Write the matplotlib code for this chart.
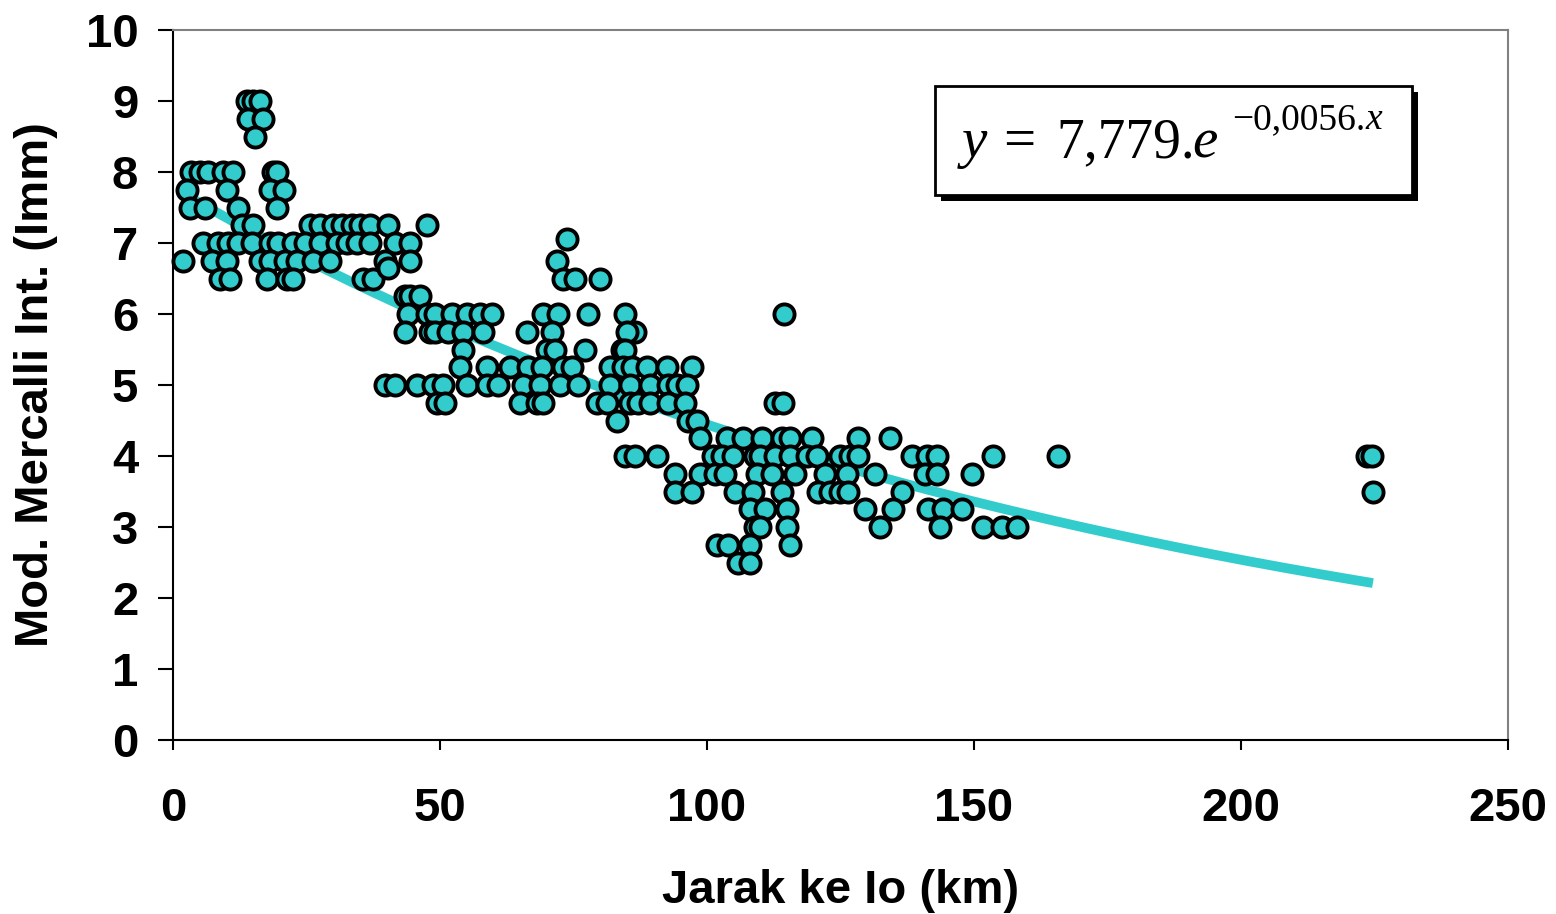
import matplotlib.pyplot as plt
from matplotlib.patches import Rectangle
import numpy as np

# Intensitas gempa (MMI) terhadap jarak ke episenter, data dibaca per baris intensitas
jarak = [
    # 9.0 / 8.75 / 8.5
    13.9, 15.0, 16.3, 14.0, 16.8, 15.4,
    # 8.0
    3.4, 5.1, 6.6, 9.4, 11.2, 18.7, 19.5,
    # 7.75
    2.6, 10.1, 18.2, 20.8,
    # 7.5
    3.2, 6.0, 12.2, 19.5,
    # 7.25
    12.9, 15.0, 25.7, 27.5, 30.0, 31.6, 33.5, 35.0, 36.9, 40.3, 47.6,
    # 7.0
    5.6, 8.4, 10.3, 12.2, 14.8, 18.2, 19.7, 22.5, 24.7, 27.5, 30.7, 32.6,
    34.5, 36.9, 41.6, 44.4, 73.8,
    # 6.75
    1.9, 7.3, 10.1, 16.3, 18.2, 21.0, 23.2, 26.2, 29.4, 39.7, 44.4, 71.9,
    # 6.5 (+6.65)
    8.8, 10.7, 17.6, 21.3, 22.5, 35.6, 37.5, 73.0, 75.3, 80.0, 40.3,
    # 6.25
    43.4, 44.4, 46.3,
    # 6.0
    44.0, 47.6, 49.1, 52.2, 55.1, 57.5, 59.7, 69.3, 72.1, 77.7, 84.6, 114.5,
    # 5.75
    43.4, 48.1, 49.1, 51.5, 54.3, 58.1, 66.3, 71.0, 86.5, 85.0,
    # 5.5
    54.3, 70.0, 71.5, 77.2, 84.1, 84.6,
    # 5.25
    53.7, 58.8, 63.1, 66.5, 69.1, 73.0, 74.7, 81.8, 84.3, 86.0, 88.8, 92.5, 97.2,
    # 5.0
    39.7, 41.6, 45.7, 48.7, 50.6, 55.1, 58.8, 60.9, 65.5, 68.7, 72.5, 75.8,
    81.8, 85.6, 89.3, 92.7, 94.4, 96.3,
    # 4.75
    49.4, 50.9, 65.0, 68.2, 69.3, 79.4, 81.3, 85.6, 87.1, 89.3, 92.7, 95.9,
    112.7, 114.2,
    # 4.5
    83.1, 96.4, 98.1,
    # 4.25
    98.7, 103.7, 106.7, 110.3, 114.0, 115.5, 119.7, 128.3, 134.3,
    # 4.0
    84.6, 86.5, 90.6, 101.1, 102.8, 104.9, 109.0, 109.9, 112.7, 115.5, 118.7,
    120.6, 124.9, 126.8, 128.3, 138.4, 141.2, 143.1, 153.6, 165.7, 223.6, 224.6,
    # 3.75
    94.0, 98.7, 101.5, 103.4, 109.4, 112.2, 116.5, 122.1, 126.2, 131.5,
    140.8, 143.1, 149.6,
    # 3.5
    94.0, 97.2, 105.2, 108.6, 114.0, 120.8, 123.0, 124.9, 126.4, 136.5, 224.7,
    # 3.25
    108.1, 110.9, 115.0, 129.6, 134.8, 141.4, 144.2, 147.8,
    # 3.0
    109.0, 109.9, 115.0, 132.4, 143.6, 151.7, 155.2, 158.1,
    # 2.75
    101.9, 103.9, 108.1, 115.5,
    # 2.5
    105.8, 108.1,
]
intensitas = (
    [9.0] * 3 + [8.75] * 2 + [8.5]
    + [8.0] * 7 + [7.75] * 4 + [7.5] * 4 + [7.25] * 11
    + [7.0] * 16 + [7.05]
    + [6.75] * 12
    + [6.5] * 10 + [6.65]
    + [6.25] * 3 + [6.0] * 12 + [5.75] * 10 + [5.5] * 6
    + [5.25] * 13 + [5.0] * 18 + [4.75] * 14 + [4.5] * 3
    + [4.25] * 9 + [4.0] * 22 + [3.75] * 13 + [3.5] * 11
    + [3.25] * 8 + [3.0] * 8 + [2.75] * 4 + [2.5] * 2
)

# koefisien trendline eksponensial (dari kotak persamaan)
koef_a = 7.779
koef_b = -0.0056

warna = "#33CCCC"

fig = plt.figure(figsize=(15.56, 9.14), dpi=100)
ax = fig.add_axes([173 / 1556, 1 - 740 / 914, (1508 - 173) / 1556, (740 - 30) / 914])

# trendline
xs = np.linspace(min(jarak), max(jarak), 200)
ax.plot(xs, koef_a * np.exp(koef_b * xs), color=warna, lw=7, solid_capstyle="butt", zorder=2)

ax.plot(jarak, intensitas, "o", ms=14.5, mfc=warna, mec="black", mew=2.8, zorder=3, clip_on=False)

ax.set_xlim(0, 250)
ax.set_ylim(0, 10)
ax.set_xticks(range(0, 251, 50))
ax.set_yticks(range(0, 11))

for s in ["top", "right"]:
    ax.spines[s].set_color("#808080")
    ax.spines[s].set_linewidth(1.5)
for s in ["left", "bottom"]:
    ax.spines[s].set_color("black")
    ax.spines[s].set_linewidth(1.5)

ax.tick_params(axis="y", direction="out", length=11, width=1.5, pad=14)
ax.tick_params(axis="x", direction="out", length=7, width=1.5, pad=27)
for lbl in ax.get_xticklabels() + ax.get_yticklabels():
    lbl.set_fontfamily("Liberation Sans")
    lbl.set_fontweight("bold")
    lbl.set_fontsize(34)

ax.set_xlabel("Jarak ke Io (km)", fontfamily="Liberation Sans", fontweight="bold",
              fontsize=34, labelpad=27)
ax.set_ylabel("Mod. Mercalli Int. (Imm)", fontfamily="Liberation Sans", fontweight="bold",
              fontsize=34, labelpad=20)

# kotak persamaan dengan bayangan
W, H = 1556, 914
bx0, by0, bx1, by1 = 935, 86, 1412, 195
fig.patches.append(Rectangle(((bx0 + 6) / W, 1 - (by1 + 6) / H), (bx1 - bx0) / W, (by1 - by0) / H,
                             transform=fig.transFigure, facecolor="black", edgecolor="none", zorder=5))
fig.patches.append(Rectangle((bx0 / W, 1 - by1 / H), (bx1 - bx0) / W, (by1 - by0) / H,
                             transform=fig.transFigure, facecolor="white", edgecolor="black",
                             lw=2, zorder=6))

serif = "Liberation Serif"
renderer = fig.canvas.get_renderer()


def tulis(px, py, s, size, italic=False):
    t = fig.text(px / W, 1 - py / H, s, fontfamily=serif, fontsize=size,
                 style="italic" if italic else "normal", zorder=7)
    return t.get_window_extent(renderer).x1


tulis(962, 157, "y", 41, italic=True)
tulis(1003, 157, "=", 41)
x_akhir = tulis(1056, 157, "7,779.", 40)
tulis(x_akhir - 2, 157, "e", 41, italic=True)
x_akhir = tulis(1232, 129, "\u22120,0056.", 27)
tulis(x_akhir, 129, "x", 27, italic=True)

fig.savefig("out.png", dpi=100)
